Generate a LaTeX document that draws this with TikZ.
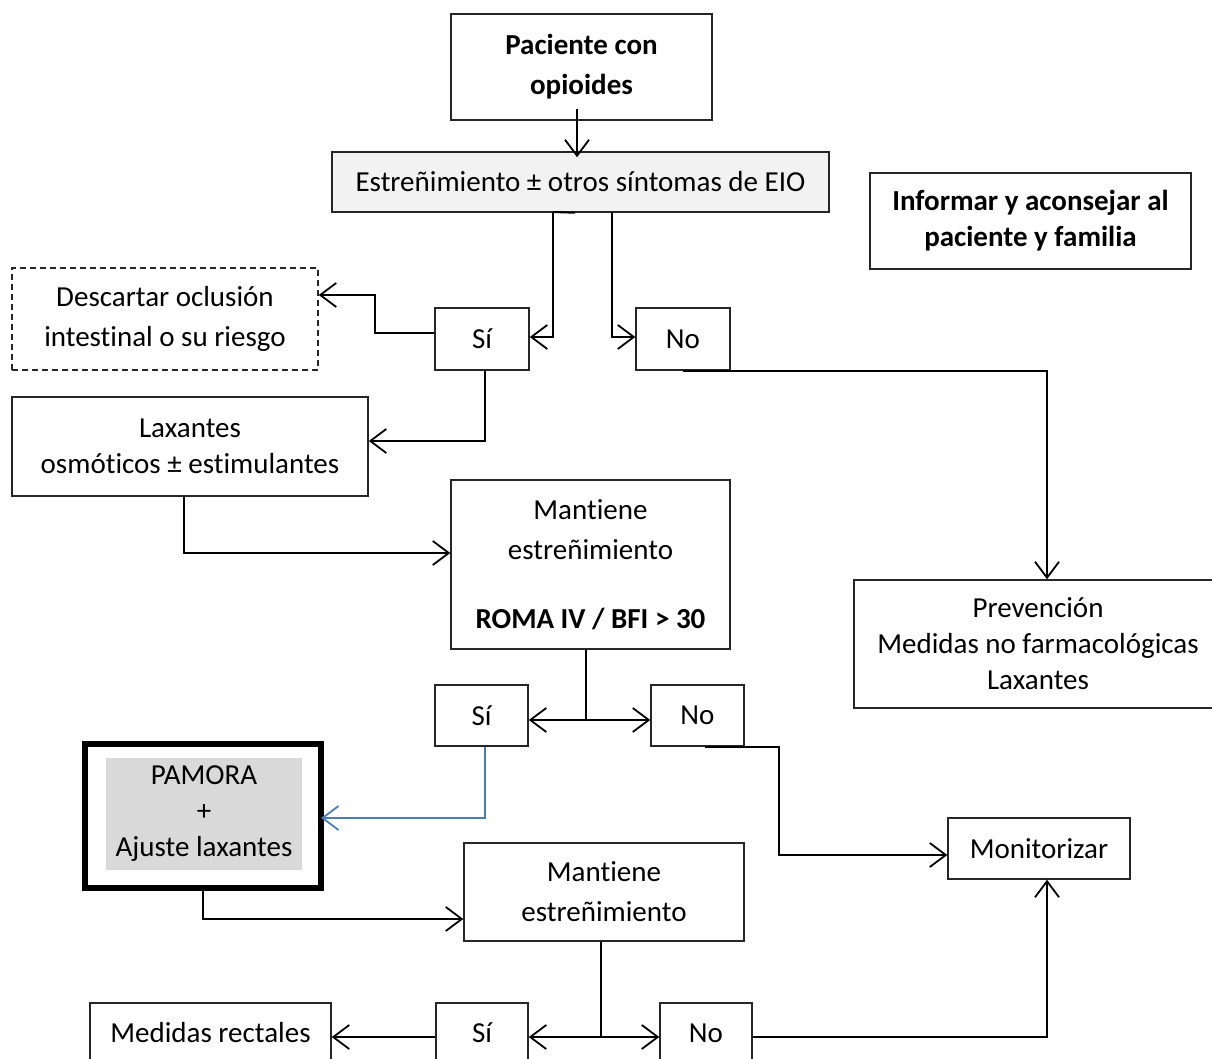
\documentclass[tikz,border=0pt]{standalone}
\usepackage{fontspec}
\setmainfont[Ligatures={NoCommon,NoContextual,NoRare},RawFeature={-liga;-clig;-dlig;-calt}]{Carlito}
\usetikzlibrary{arrows.meta}
\definecolor{lightfill}{HTML}{F2F2F2}
\definecolor{pamfill}{HTML}{D9D9D9}
\definecolor{blueline}{HTML}{4A7EBB}
\tikzset{
  box/.style={draw=black!85, line width=0.75pt, fill=white, inner sep=0pt, align=center, rectangle},
  arr/.style={line width=1pt, -{Straight Barb[length=8pt,width=12pt,line width=0.9pt]}},
  plain/.style={line width=1pt},
  ls/.style={font=\fontsize{14.5}{18}\selectfont},
  lw/.style={font=\fontsize{14.5}{20}\selectfont},
}
\begin{document}
\begin{tikzpicture}[x=0.5pt,y=-0.5pt]
\useasboundingbox (0,0) rectangle (1212,1059);
\fill[white] (0,0) rectangle (1212,1059);
\clip (0,0) rectangle (1212,1059);

% nodes
\node[box,lw,minimum width=130.5pt,minimum height=53pt] (pac) at (581.5,67) {\textbf{Paciente con}\\\textbf{opioides}};
\node[box,lw,fill=lightfill,minimum width=248.5pt,minimum height=30pt] (est) at (580.5,182) {Estreñimiento ± otros síntomas de EIO};
\node[box,ls,minimum width=160.5pt,minimum height=48pt] (inf) at (1030.5,221) {\textbf{Informar y aconsejar al}\\\textbf{paciente y familia}};
\node[box,lw,dashed,dash pattern=on 3pt off 2pt,minimum width=153pt,minimum height=51pt] (des) at (165,319) {Descartar oclusión\\intestinal o su riesgo};
\node[box,lw,minimum width=47pt,minimum height=31pt] (si1) at (482,339) {Sí};
\node[box,lw,minimum width=47pt,minimum height=31pt] (no1) at (683,339) {No};
\node[box,ls,minimum width=178pt,minimum height=49.5pt] (lax) at (190,446.5) {Laxantes\\osmóticos ± estimulantes};
\node[box,lw,minimum width=139.5pt,minimum height=84.5pt] (man1) at (590.5,564.5) {Mantiene\\estreñimiento\\[14.5pt]\textbf{ROMA IV / BFI > 30}};
\node[box,ls,minimum width=184pt,minimum height=64pt] (prev) at (1038,644) {Prevención\\Medidas no farmacológicas\\Laxantes};
\node[box,lw,minimum width=46.5pt,minimum height=30.5pt] (si2) at (481.5,715.5) {Sí};
\node[box,lw,minimum width=46.5pt,minimum height=30.5pt] (no2) at (697.5,715.5) {No};
\node[box,line width=2.6pt,draw=black,minimum width=118pt,minimum height=72pt] (pam) at (203,816) {};
\node[fill=pamfill,inner sep=0pt,align=center,ls,minimum width=98pt,minimum height=56pt] (pamin) at (204,814) {PAMORA\\+\\Ajuste laxantes};
\node[box,lw,minimum width=91pt,minimum height=30.5pt] (mon) at (1039,848.5) {Monitorizar};
\node[box,lw,minimum width=140pt,minimum height=49pt] (man2) at (604,892) {Mantiene\\estreñimiento};
\node[box,lw,minimum width=120.5pt,minimum height=30pt] (med) at (210.5,1033) {Medidas rectales};
\node[box,lw,minimum width=46pt,minimum height=30pt] (si3) at (482,1033) {Sí};
\node[box,lw,minimum width=46pt,minimum height=30pt] (no3) at (706,1033) {No};

% connectors
\draw[arr] ([xshift=-2.25pt,yshift=6pt]pac.south) -- ([xshift=-1.75pt,yshift=-3pt]est.north);
\coordinate (c1) at (553,212);
\coordinate (c2) at (612,212);
\draw[plain] (c1) -- ([xshift=-2.75pt]est.south);
\draw[arr] (c1) |- ([yshift=1pt]si1.east);
\draw[arr] (c2) |- ([yshift=1pt]no1.west);
\draw[arr] ([yshift=3pt]si1.west) -- ++(-59,0) |- ([yshift=12pt]des.east);
\draw[arr] ([xshift=1.5pt]si1.south) |- ([yshift=2.75pt]lax.east);
\draw[arr] (no1.south) -| ([xshift=4.5pt]prev.north);
\draw[arr] ([xshift=-3pt]lax.south) |- ([yshift=5.75pt]man1.west);
\draw[arr] ([xshift=-2.25pt]man1.south) |- ([yshift=-2.25pt]si2.east);
\draw[arr] ([xshift=-2.25pt]man1.south) |- ([yshift=-2.25pt]no2.west);
\draw[arr,draw=blueline,line width=0.9pt] ([xshift=1.75pt]si2.south) |- ([xshift=-1.3pt,yshift=-1pt]pam.east);
\draw[arr] ([xshift=3.75pt]no2.south) -- ++(74,0) |- ([yshift=-3.25pt]mon.west);
\draw[arr] (pam.south) |- ([yshift=-13.5pt]man2.west);
\draw[arr] ([xshift=-1.5pt]man2.south) |- ([yshift=-2pt]si3.east);
\draw[arr] ([xshift=-1.5pt]man2.south) |- ([yshift=-2pt]no3.west);
\draw[arr] ([yshift=-2pt]si3.west) -- ([yshift=-2pt]med.east);
\draw[arr] ([yshift=-2pt]no3.east) -| ([xshift=4pt]mon.south);
\end{tikzpicture}
\end{document}
